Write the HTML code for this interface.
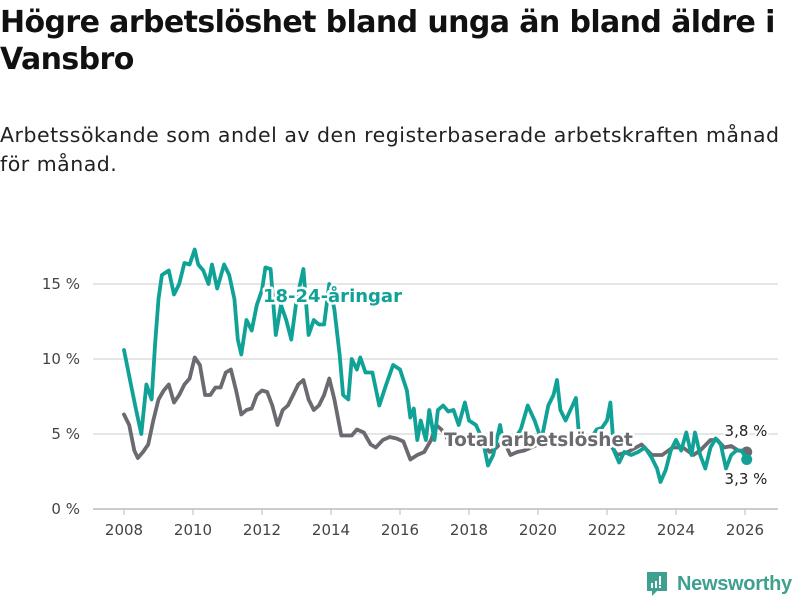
<!DOCTYPE html>
<html><head><meta charset="utf-8">
<style>
body{margin:0;background:#fff;width:800px;height:600px;overflow:hidden;font-family:"DejaVu Sans","Liberation Sans",sans-serif;}
#title{position:absolute;left:0;top:4px;width:800px;font-size:30px;font-weight:bold;line-height:37px;color:#111;letter-spacing:-0.6px;margin:0}
#sub{position:absolute;left:0;top:121px;width:796px;font-size:20.5px;line-height:29px;color:#222;letter-spacing:0.5px;margin:0}
svg{position:absolute;left:0;top:0}
</style></head><body>
<h1 id="title">Högre arbetslöshet bland unga än bland äldre i Vansbro</h1>
<p id="sub">Arbetssökande som andel av den registerbaserade arbetskraften månad för månad.</p>
<svg id="chart" width="800" height="600"></svg>
<script>
const youthYears=[2008.0,2008.2,2008.35,2008.5,2008.65,2008.8,2008.9,2009.0,2009.1,2009.3,2009.45,2009.6,2009.75,2009.9,2010.05,2010.15,2010.3,2010.45,2010.55,2010.7,2010.9,2011.05,2011.2,2011.3,2011.4,2011.55,2011.7,2011.85,2012.0,2012.1,2012.25,2012.4,2012.55,2012.7,2012.85,2013.0,2013.2,2013.35,2013.5,2013.65,2013.8,2013.95,2014.1,2014.25,2014.35,2014.5,2014.6,2014.75,2014.85,2015.0,2015.2,2015.4,2015.6,2015.8,2016.0,2016.2,2016.3,2016.4,2016.5,2016.6,2016.75,2016.85,2017.0,2017.1,2017.25,2017.4,2017.55,2017.7,2017.88,2018.0,2018.2,2018.4,2018.55,2018.7,2018.9,2019.0,2019.3,2019.5,2019.7,2019.9,2020.1,2020.3,2020.45,2020.55,2020.65,2020.8,2021.0,2021.1,2021.2,2021.5,2021.7,2021.85,2022.0,2022.1,2022.2,2022.35,2022.5,2022.7,2022.9,2023.1,2023.3,2023.45,2023.55,2023.7,2023.85,2024.0,2024.15,2024.3,2024.45,2024.55,2024.7,2024.85,2025.0,2025.15,2025.3,2025.45,2025.6,2025.75,2025.9,2026.05];
const youthValues=[10.6,8.3,6.6,5.0,8.3,7.3,11,14,15.6,15.9,14.3,15,16.4,16.3,17.3,16.3,15.9,15,16.3,14.7,16.3,15.6,14,11.3,10.3,12.6,11.9,13.6,14.6,16.1,16,11.6,13.6,12.6,11.3,13.9,16,11.6,12.6,12.3,12.3,15,13.3,10.3,7.6,7.3,10,9.3,10.1,9.1,9.1,6.9,8.3,9.6,9.3,7.9,6.1,6.7,4.6,5.9,4.6,6.6,4.6,6.6,6.9,6.5,6.6,5.6,7.1,5.9,5.6,4.6,2.9,3.6,5.6,4.3,4.6,5.3,6.9,5.9,4.6,6.9,7.6,8.6,6.6,5.9,6.9,7.4,4.6,4.6,5.3,5.4,5.9,7.1,3.9,3.1,3.8,3.6,3.8,4.1,3.4,2.7,1.8,2.6,3.9,4.6,3.9,5.1,3.6,5.1,3.6,2.7,4.1,4.7,4.3,2.7,3.6,3.9,3.9,3.3];
const totalYears=[2008.0,2008.15,2008.3,2008.4,2008.55,2008.7,2008.85,2009.0,2009.15,2009.3,2009.45,2009.6,2009.75,2009.9,2010.05,2010.2,2010.35,2010.5,2010.65,2010.8,2010.95,2011.1,2011.25,2011.4,2011.55,2011.7,2011.85,2012.0,2012.15,2012.3,2012.45,2012.6,2012.75,2012.9,2013.05,2013.2,2013.35,2013.5,2013.65,2013.8,2013.95,2014.1,2014.3,2014.45,2014.6,2014.75,2014.95,2015.15,2015.3,2015.5,2015.7,2015.9,2016.1,2016.3,2016.5,2016.7,2016.9,2017.05,2017.2,2017.4,2018.0,2018.3,2018.6,2018.8,2019.0,2019.2,2019.4,2019.6,2020.0,2020.5,2021.0,2021.5,2022.0,2022.3,2022.6,2023.0,2023.3,2023.6,2023.9,2024.2,2024.5,2024.7,2025.0,2025.2,2025.4,2025.6,2025.8,2026.05];
const totalValues=[6.3,5.6,3.9,3.4,3.8,4.3,5.9,7.3,7.9,8.3,7.1,7.6,8.3,8.7,10.1,9.6,7.6,7.6,8.1,8.1,9.1,9.3,7.9,6.3,6.6,6.7,7.6,7.9,7.8,6.9,5.6,6.6,6.9,7.6,8.3,8.6,7.3,6.6,6.9,7.6,8.7,7.3,4.9,4.9,4.9,5.3,5.1,4.3,4.1,4.6,4.8,4.7,4.5,3.3,3.6,3.8,4.6,5.6,5.3,4.6,4.6,4.6,3.8,4.1,4.6,3.6,3.8,3.9,4.3,4.6,4.7,4.6,4.6,3.6,3.8,4.3,3.6,3.6,4.1,4.1,3.6,3.9,4.6,4.6,4.1,4.2,3.9,3.8];
const yTicks=[0,5,10,15];
const xTicks=[2008,2010,2012,2014,2016,2018,2020,2022,2024,2026];

const NS='http://www.w3.org/2000/svg';
const svg=document.getElementById('chart');
const xS=y=>124+(y-2008)*34.5;
const yS=v=>509-v*15;
function mk(t,a){const e=document.createElementNS(NS,t);for(const k in a)e.setAttribute(k,a[k]);svg.appendChild(e);return e;}
yTicks.forEach(v=>{
  const l=mk('line',{x1:93,x2:778,y1:yS(v),y2:yS(v),stroke:v===0?'#bbb':'#ddd','stroke-width':1.5});
  
  
  const t=mk('text',{x:80,y:yS(v)+5,'text-anchor':'end','font-size':15,fill:'#444','font-family':'DejaVu Sans, sans-serif'});
  t.textContent=v+' %';
  
  
});
xTicks.forEach(y=>{
  const tk=mk('line',{x1:xS(y),x2:xS(y),y1:509,y2:515,stroke:'#bbb','stroke-width':1});
  
  
  const t=mk('text',{x:xS(y),y:535,'text-anchor':'middle','font-size':15,fill:'#444','font-family':'DejaVu Sans, sans-serif'});
  t.textContent=y;
  
  
});
function line(xs,vs,col,name){
  const d=xs.map((x,i)=>(i?'L':'M')+xS(x).toFixed(1)+','+yS(vs[i]).toFixed(1)).join('');
  const p=mk('path',{d:d,fill:'none',stroke:col,'stroke-width':3.8,'stroke-linejoin':'round','stroke-linecap':'round'});
  
  
  const n=xs.length-1;
  const c=mk('circle',{cx:xS(xs[n]),cy:yS(vs[n]),r:5.5,fill:col});
  
  
}
line(totalYears,totalValues,'#6b6a70','total-line');
line(youthYears,youthValues,'#10a296','youth-line');
function lab(x,y,txt,col,name,size,bold,anchor){
  const t=mk('text',{x:x,y:y,'font-size':size,'font-weight':bold?'bold':'normal',fill:col,stroke:'#fff','stroke-width':bold?5:4,'paint-order':'stroke','stroke-linejoin':'round','font-family':'DejaVu Sans, sans-serif','text-anchor':anchor||'start'});
  t.textContent=txt;
  
  
}
lab(263,302,'18-24-åringar','#10a296','youth-series-label',18,true);
lab(444,446,'Total arbetslöshet','#6b6a70','total-series-label',18.5,true);
lab(746,436,'3,8 %','#222','total-end-value',15,false,'middle');
lab(746,484,'3,3 %','#222','youth-end-value',15,false,'middle');
</script>
<div style="position:absolute;left:645px;top:570px;height:28px;display:flex;align-items:center;">
  <svg width="24" height="28" viewBox="0 0 24 28" style="position:static">
    <path d="M2 2h20v19H12l-5 5v-5H2z" fill="#3fa08f"/>
    <rect x="6" y="13" width="2" height="5" fill="#fff"/><rect x="10" y="11" width="2" height="7" fill="#fff"/><rect x="14" y="6" width="2" height="9" fill="#fff"/><rect x="14" y="16" width="2" height="2" fill="#fff"/>
  </svg>
  <span style="color:#3fa08f;font-size:20px;font-weight:bold;margin-left:8px;letter-spacing:-0.3px;font-family:'Liberation Sans',sans-serif">Newsworthy</span>
</div>
</body></html>
